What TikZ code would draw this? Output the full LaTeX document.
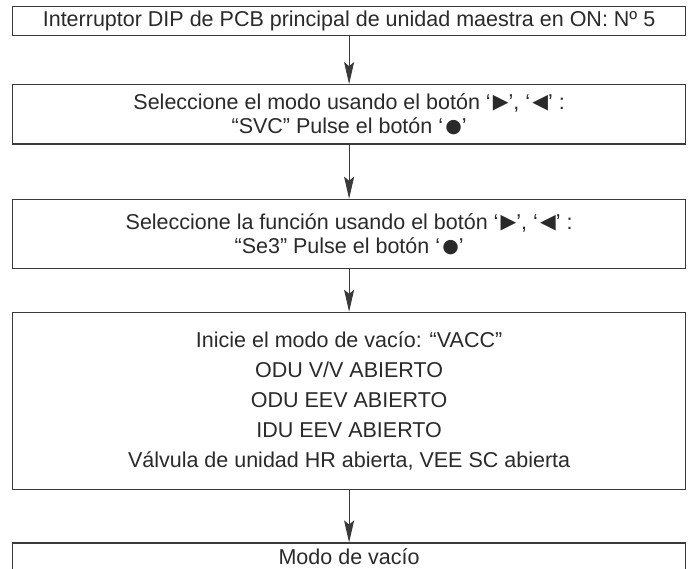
\documentclass[tikz,border=0pt]{standalone}
\usepackage{fontspec}
\setmainfont{Liberation Sans}
\newfontfamily\symfont{DejaVu Sans}
\usetikzlibrary{arrows.meta}
\definecolor{linec}{HTML}{3A3A3A}
\definecolor{txtc}{HTML}{2A2A2A}
\newcommand{\rtri}{\hspace{0.1em}\raisebox{0.04em}{\symfont\scalebox{0.95}{▶}}}
\newcommand{\ltri}{\hspace{0.1em}\raisebox{0.04em}{\symfont\scalebox{0.95}{◀}}}
\newcommand{\bdot}{\hspace{0.1em}\raisebox{0.04em}{\symfont\scalebox{0.88}{●}}}
\begin{document}
\begin{tikzpicture}[x=1pt,y=-1pt,
  box/.style={draw=linec, line width=1.1pt, minimum width=673.2pt, inner sep=0pt,
    align=center, text=txtc, font=\fontsize{21.5}{24}\selectfont},
  arr/.style={draw=linec, line width=0.9pt, -{Stealth[length=22pt,width=10pt,inset=4pt]}}]
\clip (0,0) rectangle (694,569);
\fill[white] (0,0) rectangle (694,569);
\node[box, minimum height=29pt] (b1) at (349.1,21.2)
  {Interruptor DIP de PCB principal de unidad maestra en ON: Nº 5};
\node[box, minimum height=59.3pt] (b2) at (349.1,114.35)
  {Seleccione el modo usando el botón ‘\rtri’, ‘\ltri’ :\\ “SVC” Pulse el botón ‘\bdot’};
\node[box, minimum height=69.4pt] (b3) at (349.1,234)
  {Seleccione la función usando el botón ‘\rtri’, ‘\ltri’ :\\ “Se3” Pulse el botón ‘\bdot’};
\node[box, minimum height=177pt, font=\fontsize{21.5}{30}\selectfont] (b4) at (349.1,400.8)
  {Inicie el modo de vacío: “VACC”\\ ODU V/V ABIERTO\\ ODU EEV ABIERTO\\ IDU EEV ABIERTO\\ Válvula de unidad HR abierta, VEE SC abierta};
\node[box, minimum height=28pt] (b5) at (349.1,557)
  {Modo de vacío};
\draw[arr] (b1.south) -- (b2.north);
\draw[arr] (b2.south) -- (b3.north);
\draw[arr] (b3.south) -- (b4.north);
\draw[arr] (b4.south) -- (b5.north);
\end{tikzpicture}
\end{document}
